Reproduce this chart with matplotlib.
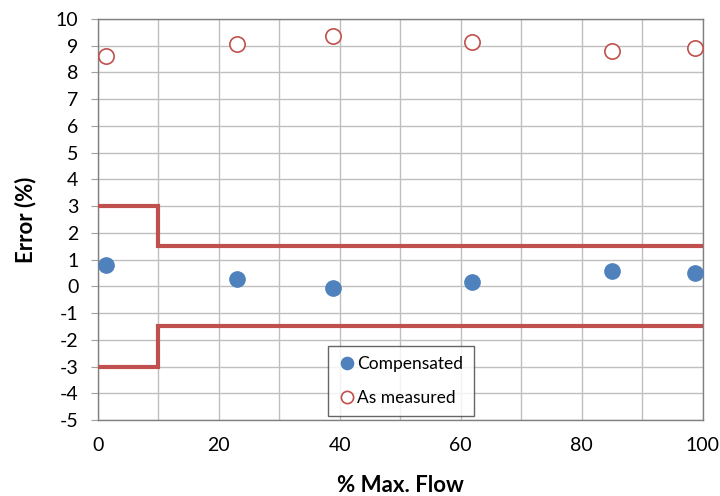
import matplotlib
matplotlib.use("Agg")
import matplotlib.pyplot as plt

plt.rcParams['font.family'] = ['Lato', 'DejaVu Sans']
plt.rcParams['axes.unicode_minus'] = False

flow = [1.3, 23, 38.8, 61.8, 85, 98.8]
compensated = [0.79, 0.26, -0.07, 0.15, 0.56, 0.49]
as_measured = [8.61, 9.06, 9.36, 9.14, 8.80, 8.91]

limit_x = [0, 10, 10, 100]
upper_limit = [3, 3, 1.5, 1.5]
lower_limit = [-3, -3, -1.5, -1.5]

x_ticks = [0, 20, 40, 60, 80, 100]
y_ticks = list(range(-5, 11))

fig = plt.figure(figsize=(7.2, 4.96), dpi=100)
ax = fig.add_axes([0.136, 0.153, 0.84, 0.809])

red = '#C0504D'
blue = '#4F81BD'

ax.plot(limit_x, upper_limit, color=red, lw=3, zorder=3, solid_joinstyle='miter')
ax.plot(limit_x, lower_limit, color=red, lw=3, zorder=3, solid_joinstyle='miter')

ax.plot(flow, compensated, 'o', color=blue, ms=11, label='Compensated', zorder=4, clip_on=False)
ax.plot(flow, as_measured, 'o', mfc='white', mec=red, mew=1.2, ms=11, label='As measured', zorder=4, clip_on=False)

ax.set_xlim(0, 100)
ax.set_ylim(-5, 10)
ax.set_xticks(x_ticks)
ax.set_xticks(range(0, 101, 10), minor=True)
ax.set_yticks(y_ticks)
ax.grid(True, which='both', color='#BFBFBF', lw=1)
ax.set_axisbelow(True)
for s in ax.spines.values():
    s.set_color('#808080')
    s.set_linewidth(1)

ax.tick_params(axis='y', length=5, color='#A0A0A0', labelsize=14, pad=9)
ax.tick_params(axis='x', which='both', length=0, labelsize=14, pad=12)

ax.set_ylabel('Error (%)', fontsize=16, fontweight='bold', labelpad=14)
ax.set_xlabel('% Max. Flow', fontsize=16, fontweight='bold', labelpad=15)

leg = ax.legend(loc='upper left', bbox_to_anchor=(0.38, 0.185), fontsize=12.5,
                frameon=True, fancybox=False, edgecolor='#404040',
                handletextpad=0.1, handlelength=1.0, borderpad=0.6,
                labelspacing=1.0, markerscale=0.8, borderaxespad=0)
leg.get_frame().set_linewidth(1)

fig.savefig('out.png', dpi=100)
